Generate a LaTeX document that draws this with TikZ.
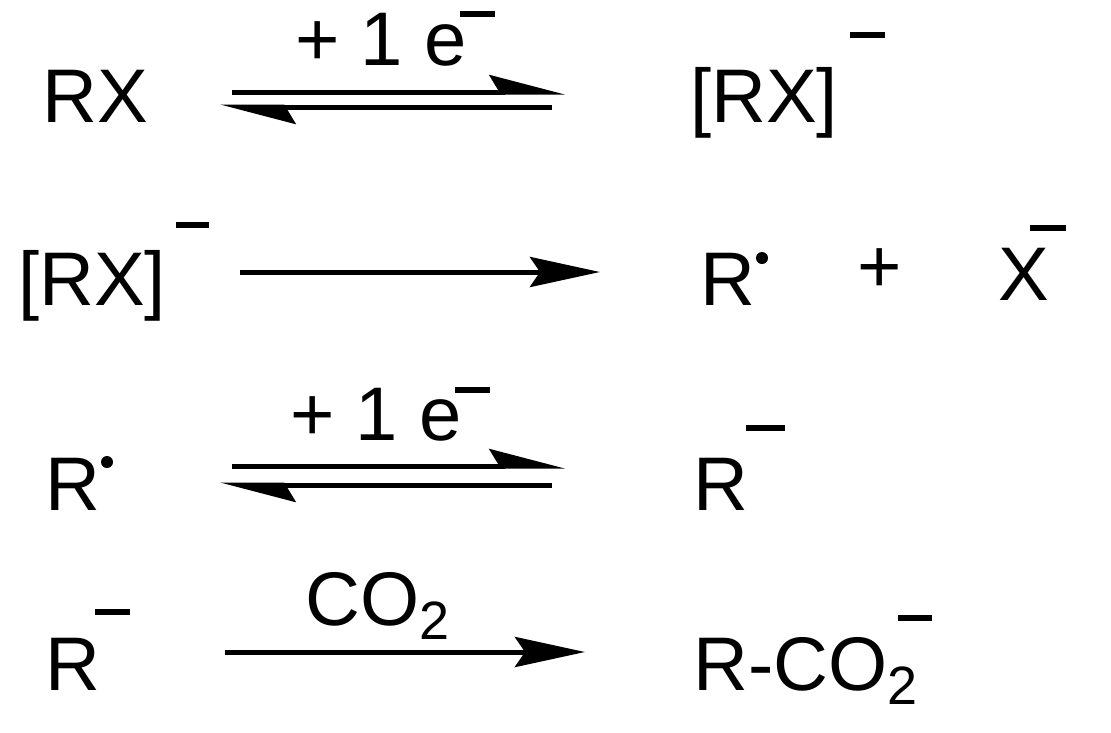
\documentclass[tikz,border=0pt]{standalone}
\usepackage{fontspec}
\setmainfont{Liberation Sans}
\usetikzlibrary{arrows.meta}
\begin{document}
\begin{tikzpicture}[x=1pt,y=-1pt,
  t/.style={anchor=base west,inner sep=0pt,font=\fontsize{76}{80}\selectfont},
  sub/.style={anchor=base west,inner sep=0pt,font=\fontsize{54}{56}\selectfont},
  ln/.style={line width=5pt},
  full/.style={ln,-{Stealth[length=70pt,width=30pt,inset=10pt]}},
  half/.style={ln,-{Stealth[length=66pt,width=34pt,inset=10pt,left]}},
  bar/.style={line width=5.5pt}]
\useasboundingbox (0,0) rectangle (1111,732);
% row 1
\node[t] (a1) at (42,122) {RX};
\node[t] (a2) at (295,65) {+ 1 e};
\draw[bar] (460,14) coordinate (m1a) -- (495,14) coordinate (m1b);
\coordinate (r1a) at (232,92); \coordinate (r1b) at (565,92);
\coordinate (r1c) at (552,107); \coordinate (r1d) at (220,107);
\draw[half] (r1a) -- (r1b);
\draw[half] (r1c) -- (r1d);
\node[t] (a3) at (690,122) {[RX]};
\draw[bar] (850,35) coordinate (m2a) -- (885,35) coordinate (m2b);
% row 2
\node[t] (b1) at (18,305) {[RX]};
\draw[bar] (176,225) coordinate (m3a) -- (209,225) coordinate (m3b);
\coordinate (r2a) at (240,272); \coordinate (r2b) at (600,272);
\draw[full] (r2a) -- (r2b);
\node[t] (b2) at (700,305) {R};
\fill (762,258) coordinate (d1) circle (6pt);
\node[t] (b3) at (857,292) {+};
\node[t] (b4) at (998,300) {X};
\draw[bar] (1030,228) coordinate (m4a) -- (1066,228) coordinate (m4b);
% row 3
\node[t] (c1) at (45,510) {R};
\fill (107,462) coordinate (d2) circle (6pt);
\node[t] (c2) at (290,440) {+ 1 e};
\draw[bar] (455,390) coordinate (m5a) -- (490,390) coordinate (m5b);
\coordinate (r3a) at (232,466); \coordinate (r3b) at (565,466);
\coordinate (r3c) at (552,485); \coordinate (r3d) at (220,485);
\draw[half] (r3a) -- (r3b);
\draw[half] (r3c) -- (r3d);
\node[t] (c3) at (693,510) {R};
\draw[bar] (746,428) coordinate (m6a) -- (785,428) coordinate (m6b);
% row 4
\node[t] (e1) at (45,690) {R};
\draw[bar] (95,612) coordinate (m7a) -- (130,612) coordinate (m7b);
\node[t] (e2) at (305,625) {CO};
\node[sub] (e2s) at (e2.base east) [yshift=-14pt] {2};
\coordinate (r4a) at (225,652); \coordinate (r4b) at (585,652);
\draw[full] (r4a) -- (r4b);
\node[t] (e3) at (693,690) {R-CO};
\node[sub] (e3s) at (e3.base east) [yshift=-14pt] {2};
\draw[bar] (898,618) coordinate (m8a) -- (932,618) coordinate (m8b);
\end{tikzpicture}
\end{document}
